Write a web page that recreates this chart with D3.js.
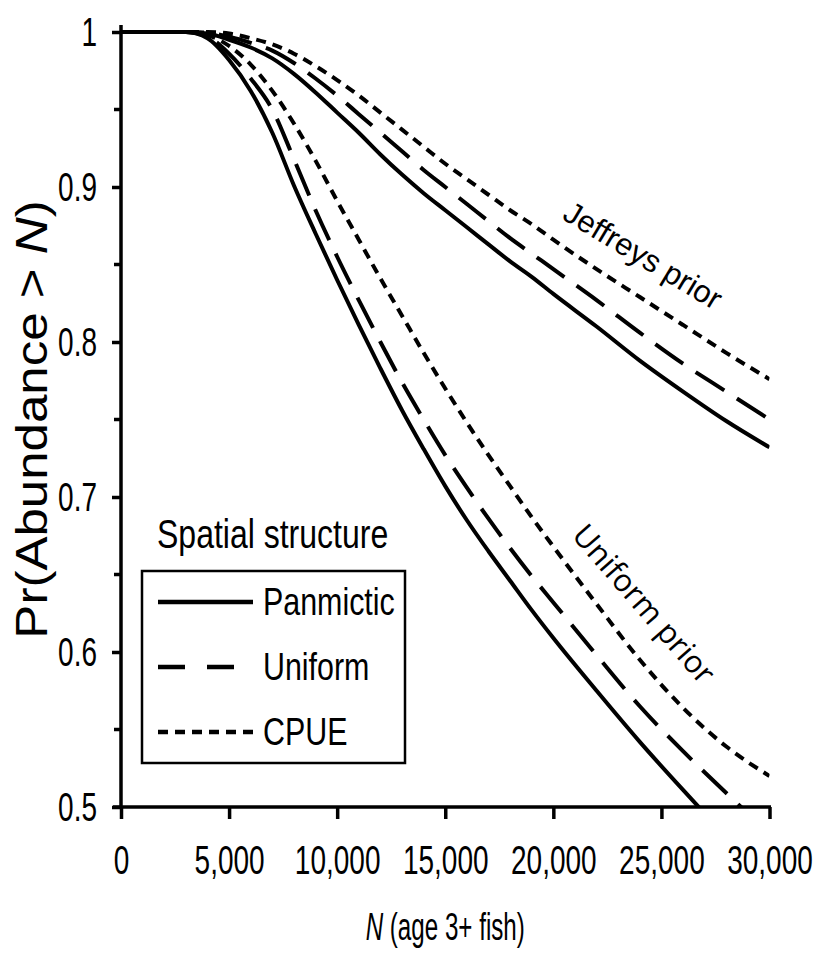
<!DOCTYPE html>
<html>
<head>
<meta charset="utf-8">
<script src="https://cdn.jsdelivr.net/npm/d3@7/dist/d3.min.js"></script>
<style>
  body { margin: 0; background: #fff; }
  svg { display: block; }
</style>
</head>
<body>
<div id="chart"></div>
<script>
// N (age 3+ fish) grid the curves are read at
const nValues = [0, 3000, 4000, 5000, 6000, 7000, 8000, 9000, 10000, 11000, 12000, 13000,
  14000, 15000, 16000, 17000, 18000, 19000, 20000, 22000, 24000, 26000, 28000, 30000];

// Uniform prior
const uniformPanmictic = [1, 1, 0.996, 0.982, 0.962, 0.935, 0.901, 0.870, 0.840, 0.811, 0.783, 0.756,
  0.731, 0.707, 0.685, 0.665, 0.646, 0.627, 0.609, 0.575, 0.542, 0.511, 0.481, 0.452];
const uniformUniform = [1, 1, 0.997, 0.986, 0.970, 0.950, 0.918, 0.885, 0.855, 0.827, 0.800, 0.774,
  0.750, 0.727, 0.706, 0.686, 0.667, 0.649, 0.632, 0.598, 0.565, 0.536, 0.509, 0.483];
const uniformCpue = [1, 1, 0.998, 0.991, 0.979, 0.962, 0.941, 0.917, 0.891, 0.866, 0.841, 0.817,
  0.793, 0.770, 0.748, 0.727, 0.707, 0.687, 0.668, 0.631, 0.595, 0.564, 0.539, 0.520];

// Jeffreys prior
const jeffreysPanmictic = [1, 1, 0.999, 0.995, 0.990, 0.983, 0.973, 0.961, 0.948, 0.935, 0.921, 0.908,
  0.896, 0.885, 0.874, 0.863, 0.852, 0.842, 0.831, 0.810, 0.788, 0.768, 0.749, 0.732];
const jeffreysUniform = [1, 1, 0.9995, 0.997, 0.993, 0.988, 0.980, 0.970, 0.959, 0.947, 0.935, 0.923,
  0.911, 0.900, 0.889, 0.878, 0.867, 0.857, 0.847, 0.827, 0.806, 0.786, 0.768, 0.750];
const jeffreysCpue = [1, 1, 1, 0.999, 0.996, 0.992, 0.986, 0.978, 0.969, 0.959, 0.948, 0.937,
  0.926, 0.915, 0.905, 0.895, 0.885, 0.876, 0.866, 0.847, 0.829, 0.811, 0.793, 0.776];

const structures = ['Panmictic', 'Uniform', 'CPUE'];
const xTicks = [0, 5000, 10000, 15000, 20000, 25000, 30000];
const yTicks = [0.5, 0.6, 0.7, 0.8, 0.9, 1];
const yMinorTicks = [0.55, 0.65, 0.75, 0.85, 0.95];

const width = 818;
const height = 958;

const series = [
  { values: uniformPanmictic, style: 'Panmictic' },
  { values: uniformUniform, style: 'Uniform' },
  { values: uniformCpue, style: 'CPUE' },
  { values: jeffreysPanmictic, style: 'Panmictic' },
  { values: jeffreysUniform, style: 'Uniform' },
  { values: jeffreysCpue, style: 'CPUE' },
];

const dash = { Panmictic: null, Uniform: '34,15', CPUE: '10,7' };
const legendDash = { Panmictic: null, Uniform: '27,22', CPUE: '10,7' };

const x = d3.scaleLinear().domain([0, 30000]).range([121, 769.5]);
const y = d3.scaleLinear().domain([0.5, 1]).range([807, 32]);

const svg = d3.select('#chart').append('svg')
  .attr('width', width)
  .attr('height', height);

const sans = '"Liberation Sans", Arial, sans-serif';

// clip so the steep curves stop at the x axis
svg.append('clipPath').attr('id', 'plot-clip')
  .append('rect')
  .attr('x', x(0))
  .attr('y', y(1) - 10)
  .attr('width', x(30000) - x(0))
  .attr('height', y(0.5) - y(1) + 10);

const line = d3.line()
  .x(d => x(d[0]))
  .y(d => y(d[1]))
  .curve(d3.curveMonotoneX);

svg.append('g')
  .attr('clip-path', 'url(#plot-clip)')
  .selectAll('path')
  .data(series)
  .join('path')
  .attr('d', s => line(nValues.map((n, i) => [n, s.values[i]])))
  .attr('fill', 'none')
  .attr('stroke', '#000')
  .attr('stroke-width', 4)
  .attr('stroke-dasharray', s => dash[s.style]);

// y axis
const yAxis = svg.append('g')
  .attr('transform', `translate(${x(0)},0)`)
  .call(d3.axisLeft(y).tickValues(yTicks).tickSize(9).tickSizeOuter(0)
    .tickFormat(d => (d === 1 ? '1' : d3.format('.1f')(d))));
yAxis.select('.domain').remove();
yAxis.selectAll('.tick line').attr('stroke-width', 3.5);
yAxis.selectAll('.tick text')
  .attr('x', -24 / 0.7)
  .attr('dy', '0.34em')
  .attr('transform', 'scale(0.7,1)')
  .style('font-family', sans)
  .style('font-size', '40px')
  .attr('fill', '#000');

yAxis.selectAll('.minor')
  .data(yMinorTicks)
  .join('line')
  .attr('class', 'minor')
  .attr('x1', -7)
  .attr('x2', 0)
  .attr('y1', d => y(d))
  .attr('y2', d => y(d))
  .attr('stroke', '#000')
  .attr('stroke-width', 3.5);

yAxis.append('line')
  .attr('x1', 0).attr('x2', 0)
  .attr('y1', y(1) - 7).attr('y2', y(0.5) + 2)
  .attr('stroke', '#000')
  .attr('stroke-width', 3.5);

// x axis
const xAxis = svg.append('g')
  .attr('transform', `translate(0,${y(0.5)})`)
  .call(d3.axisBottom(x).tickValues(xTicks).tickSize(12).tickSizeOuter(0)
    .tickFormat(d3.format(',')));
xAxis.select('.domain').remove();
xAxis.selectAll('.tick line').attr('stroke-width', 3.5);
xAxis.selectAll('.tick text')
  .attr('y', 67)
  .attr('dy', 0)
  .attr('transform', 'scale(0.7,1)')
  .style('font-family', sans)
  .style('font-size', '40px')
  .attr('fill', '#000');

xAxis.append('line')
  .attr('x1', x(0) - 8).attr('x2', x(30000) + 1.5)
  .attr('y1', 0).attr('y2', 0)
  .attr('stroke', '#000')
  .attr('stroke-width', 3.5);

// axis titles
const xTitle = svg.append('text')
  .attr('transform', `translate(${(x(0) + x(30000)) / 2},940) scale(0.62,1)`)
  .attr('text-anchor', 'middle')
  .style('font-family', sans)
  .style('font-size', '39px');
xTitle.append('tspan').style('font-style', 'italic').text('N');
xTitle.append('tspan').text(' (age 3+ fish)');

const yTitle = svg.append('text')
  .attr('transform', `translate(31,${(y(0.5) + y(1)) / 2}) scale(1,1.16) rotate(-90)`)
  .attr('text-anchor', 'middle')
  .attr('dy', '0.36em')
  .style('font-family', sans)
  .style('font-size', '44px');
yTitle.append('tspan').text('Pr(Abundance > ');
yTitle.append('tspan').style('font-style', 'italic').text('N');
yTitle.append('tspan').text(')');

// curve group labels
svg.append('text')
  .attr('transform', `translate(${x(24150)},${y(0.856)}) rotate(31)`)
  .attr('text-anchor', 'middle')
  .attr('dy', '0.35em')
  .style('font-family', sans)
  .style('font-size', '31px')
  .text('Jeffreys prior');

svg.append('text')
  .attr('transform', `translate(${x(24200)},${y(0.631)}) rotate(49)`)
  .attr('text-anchor', 'middle')
  .attr('dy', '0.35em')
  .style('font-family', '"Open Sans", sans-serif')
  .style('font-size', '31px')
  .text('Uniform prior');

// legend
const legend = svg.append('g');
legend.append('text')
  .attr('transform', 'translate(157,548) scale(0.8,1)')
  .style('font-family', sans)
  .style('font-size', '40px')
  .text('Spatial structure');

legend.append('rect')
  .attr('x', 142).attr('y', 571)
  .attr('width', 263).attr('height', 192)
  .attr('fill', '#fff')
  .attr('stroke', '#000')
  .attr('stroke-width', 2.5);

const rowY = d3.scalePoint().domain(structures).range([602, 732]);

const rows = legend.selectAll('g.row')
  .data(structures)
  .join('g')
  .attr('class', 'row')
  .attr('transform', d => `translate(0,${rowY(d)})`);

rows.append('line')
  .attr('x1', 158)
  .attr('x2', d => (d === 'Uniform' ? 238 : 253))
  .attr('y1', 0).attr('y2', 0)
  .attr('stroke', '#000')
  .attr('stroke-width', 4.5)
  .attr('stroke-dasharray', d => legendDash[d]);

rows.append('text')
  .attr('transform', 'translate(263,13) scale(0.8,1)')
  .style('font-family', sans)
  .style('font-size', '38px')
  .text(d => d);
</script>
</body>
</html>
